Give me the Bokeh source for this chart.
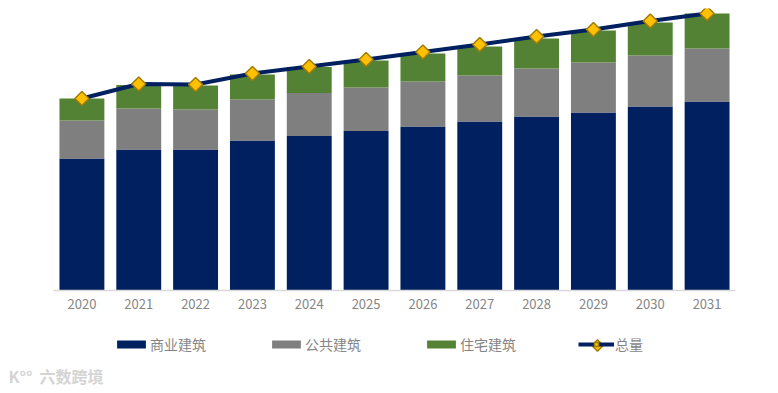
from bokeh.plotting import figure
from bokeh.layouts import column
from bokeh.models import ColumnDataSource, Legend, LegendItem, FactorRange, Range1d, Label
from bokeh.embed import file_html
from bokeh.resources import INLINE

years = ["2020","2021","2022","2023","2024","2025","2026","2027","2028","2029","2030","2031"]
commercial = [132, 141, 141, 150, 154.5, 159.5, 164, 169, 174, 178, 184, 189]
public = [38, 41, 40, 41, 43, 43.5, 45, 46, 48, 50, 51, 53]
residential = [22, 23.5, 24, 25, 26, 27, 28, 29, 30, 32, 33, 35]
total = [192, 206.5, 206, 217, 224, 231, 238.5, 246, 254, 261, 269.5, 277]
series_names = ["商业建筑", "公共建筑", "住宅建筑", "总量"]
colors = ["#002060", "#7f7f7f", "#548235"]

CJK = "Noto Sans CJK SC"
MARK = dict(marker="square", angle=0.785, fill_color="#ffc000",
            line_color="#a07c00", line_width=1.5)
src = ColumnDataSource(dict(years=years, commercial=commercial, public=public,
                            residential=residential, total=total))

p = figure(x_range=FactorRange(*years, factor_padding=0, range_padding=0),
           y_range=Range1d(0, 282), width=770, height=320,
           frame_width=682, frame_height=282,
           min_border_left=53, min_border_right=35,
           min_border_top=8, min_border_bottom=30,
           output_backend="svg", toolbar_location=None)
p.frame_align = False
p.vbar_stack(["commercial", "public", "residential"], x="years", width=0.79,
             source=src, color=colors, line_width=0)
p.line("years", "total", source=src, line_color="#002060", line_width=4)
p.scatter("years", "total", source=src, size=10, **MARK)
p.grid.visible = False
p.outline_line_color = None
p.yaxis.visible = False
ax = p.xaxis[0]
ax.axis_line_color = "#d9d9d9"
ax.axis_line_width = 1.5
ax.major_tick_line_color = None
ax.minor_tick_line_color = None
ax.major_label_text_color = "#858585"
ax.major_label_text_font = CJK
ax.major_label_text_font_size = "13px"
ax.major_label_standoff = 2

# Strip below the chart: legend and watermark
q = figure(x_range=Range1d(0, 770), y_range=Range1d(0, 70), width=770, height=70,
           frame_width=770, frame_height=70,
           x_axis_location=None, y_axis_location=None,
           min_border=0, output_backend="svg", toolbar_location=None)
q.frame_align = False
q.grid.visible = False
q.outline_line_color = None
# Legend proxies kept outside the visible range
proxies = [q.vbar(x=[-100], bottom=[-100], top=[-90], width=1, color=c, line_width=0) for c in colors]
l_line = q.line(x=[-100, -90], y=[-100, -100], line_color="#002060", line_width=4)
l_mark = q.scatter(x=[-100], y=[-100], size=10, **MARK)
legend = Legend(items=[LegendItem(label=series_names[0], renderers=[proxies[0]]),
                       LegendItem(label=series_names[1], renderers=[proxies[1]]),
                       LegendItem(label=series_names[2], renderers=[proxies[2]]),
                       LegendItem(label=series_names[3], renderers=[l_line, l_mark])],
                orientation="horizontal", location=(113, 36), spacing=62,
                glyph_width=36, glyph_height=10, label_standoff=1,
                label_text_font=CJK, label_text_font_size="14px",
                label_text_color="#858585", background_fill_alpha=0,
                border_line_color=None, padding=4, margin=0)
q.add_layout(legend, "center")
q.scatter(x=[597], y=[45], size=8, **MARK)
q.add_layout(Label(x=8, y=3, text="K°°", text_font=CJK, text_font_size="16px",
                   text_color="#d4d4d4", text_font_style="bold"))
q.add_layout(Label(x=39, y=3, text="六数跨境", text_font=CJK, text_font_size="16px",
                   text_color="#d4d4d4", text_font_style="bold"))

page = column(p, q, spacing=0)
open("out.html", "w").write(file_html(page, INLINE))
